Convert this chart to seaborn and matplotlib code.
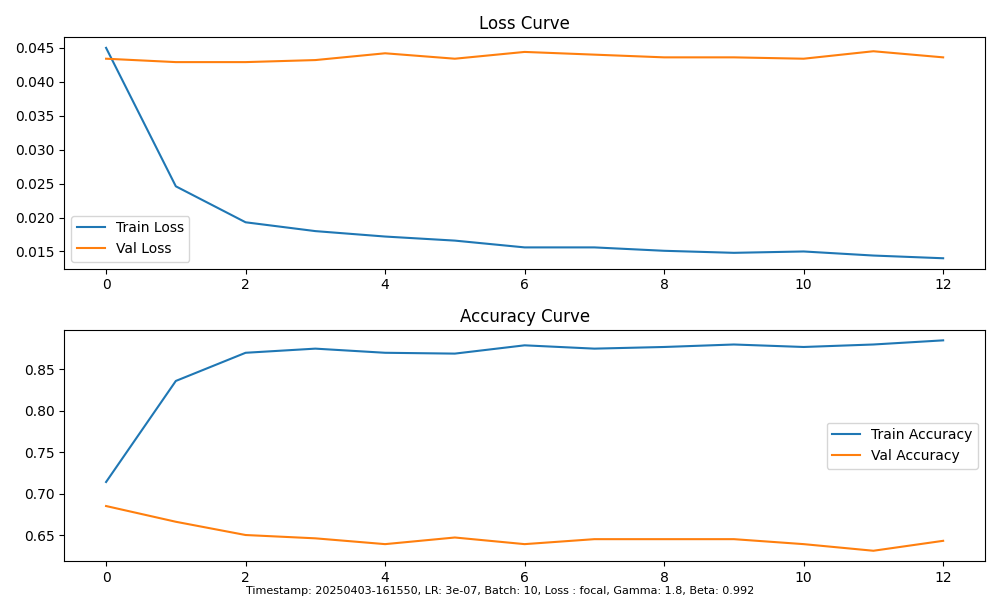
import matplotlib
matplotlib.use("Agg")
import matplotlib.pyplot as plt
import seaborn as sns

epochs = list(range(13))
train_loss = [0.0450, 0.0246, 0.0193, 0.0180, 0.0172, 0.0166, 0.0156, 0.0156, 0.0151, 0.0148, 0.0150, 0.0144, 0.0140]
val_loss = [0.0434, 0.0429, 0.0429, 0.0432, 0.0442, 0.0434, 0.0444, 0.0440, 0.0436, 0.0436, 0.0434, 0.0445, 0.0436]
train_acc = [0.714, 0.836, 0.870, 0.875, 0.870, 0.869, 0.879, 0.875, 0.877, 0.880, 0.877, 0.880, 0.885]
val_acc = [0.685, 0.666, 0.650, 0.646, 0.639, 0.647, 0.639, 0.645, 0.645, 0.645, 0.639, 0.631, 0.643]
footer = "Timestamp: 20250403-161550, LR: 3e-07, Batch: 10, Loss : focal, Gamma: 1.8, Beta: 0.992"

fig, (ax1, ax2) = plt.subplots(2, 1, figsize=(10, 6))

sns.lineplot(x=epochs, y=train_loss, ax=ax1, label="Train Loss")
sns.lineplot(x=epochs, y=val_loss, ax=ax1, label="Val Loss")
ax1.set_title("Loss Curve")
ax1.legend(loc="lower left")

sns.lineplot(x=epochs, y=train_acc, ax=ax2, label="Train Accuracy")
sns.lineplot(x=epochs, y=val_acc, ax=ax2, label="Val Accuracy")
ax2.set_title("Accuracy Curve")
ax2.legend(loc="center right")

plt.tight_layout()
fig.text(0.5, 0.01, footer, ha="center", fontsize=8)
plt.savefig("out.png", dpi=100)
